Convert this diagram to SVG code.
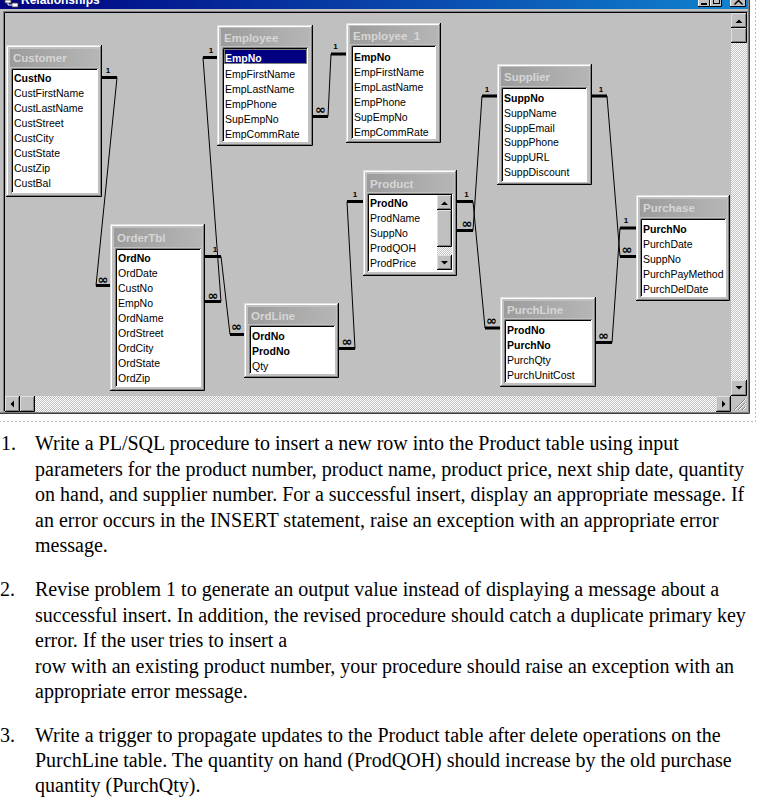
<svg xmlns="http://www.w3.org/2000/svg" width="769" height="801" viewBox="0 0 769 801">
<defs>
<linearGradient id="tb" x1="0" y1="0" x2="1" y2="0"><stop offset="0" stop-color="#000080"/><stop offset="1" stop-color="#1084d0"/></linearGradient>
<linearGradient id="tg" x1="0" y1="0" x2="1" y2="0"><stop offset="0" stop-color="#9c9c9c"/><stop offset="1" stop-color="#b6b6b6"/></linearGradient>
<pattern id="chk" width="2" height="2" patternUnits="userSpaceOnUse"><rect width="2" height="2" fill="#c0c0c0"/><rect width="1" height="1" fill="#fff"/><rect x="1" y="1" width="1" height="1" fill="#fff"/></pattern>
</defs>
<style>
.fr{fill:#c0c0c0}
.hl{stroke:#dfdfdf;fill:none}
.sh{stroke:#000;fill:none}
.hl2{stroke:#fff;fill:none}
.sh2{stroke:#808080;fill:none}
.ti{fill:url(#tg)}
.ls{fill:#fff}
.ls1{stroke:#808080;fill:none}
.ls2{stroke:#000;fill:none}
.tt{font-family:"Liberation Sans",Arial,sans-serif;font-size:11.5px;font-weight:bold;fill:#d6d6d6}
.f{font-family:"Liberation Sans",Arial,sans-serif;font-size:10.5px;fill:#000}
.b{font-weight:bold}
.one{font-family:"Liberation Sans",Arial,sans-serif;font-size:8px;font-weight:bold;fill:#000;text-anchor:middle}
.inf{font-family:"DejaVu Sans",sans-serif;font-size:13px;font-weight:bold;fill:#000;text-anchor:middle}
.thk{stroke:#000;stroke-width:3;fill:none}
.thn{stroke:#000;stroke-width:1;fill:none}
.q{font-family:"Liberation Serif","Times New Roman",serif;font-size:20px;fill:#000}
.tri{fill:#000}
</style>

<g id="window">
<rect x="0" y="0" width="750" height="414" fill="#c0c0c0"/>
<rect x="0" y="0" width="749" height="9" fill="url(#tb)"/>
<rect x="5" y="0" width="6" height="3" fill="#fff" stroke="#404040" stroke-width="0.8"/>
<rect x="12" y="3" width="6" height="4" fill="#fff" stroke="#404040" stroke-width="0.8"/>
<path d="M8 3V5H12" stroke="#fff" fill="none"/>
<text x="21" y="4" font-family="'Liberation Sans',Arial,sans-serif" font-size="12" font-weight="bold" fill="#fff">Relationships</text>
<rect x="698" y="-5" width="12" height="12" class="fr"/><path d="M698 6.5H709.5V-5" class="sh"/><path d="M698.5 6V-5" class="hl2"/>
<rect x="701" y="3" width="6" height="2" fill="#000"/>
<rect x="710" y="-5" width="12" height="12" class="fr"/><path d="M710 6.5H721.5V-5" class="sh"/><path d="M710.5 6V-5" class="hl2"/>
<rect x="713.5" y="-4.5" width="6" height="8" fill="none" stroke="#000"/>
<rect x="730" y="-5" width="16" height="12" class="fr"/><path d="M730 6.5H745.5V-5" class="sh"/><path d="M730.5 6V-5" class="hl2"/>
<path d="M734.5 -3.5L742.5 4.5M742.5 -3.5L734.5 4.5" stroke="#000" stroke-width="1.5"/>
<path d="M749.5 0V413.5H0" stroke="#404040" fill="none"/>
<path d="M748.5 0V412.5H0" stroke="#808080" fill="none"/>
<path d="M3.5 412V11.5H748" stroke="#808080" fill="none"/>
<path d="M4.5 411V12.5H747" stroke="#000" fill="none"/>
<rect x="731" y="43" width="16" height="337" fill="url(#chk)"/>
<rect x="731" y="13" width="16" height="15" class="fr"/><path class="hl" d="M731.5 27V13.5H746"/><path class="sh" d="M731 27.5H746.5V13"/><path class="sh2" d="M732 26.5H745.5V14"/>
<path class="tri" d="M735.5 23L739 19.5L742.5 23Z"/>
<rect x="731" y="28" width="16" height="15" class="fr"/><path class="hl" d="M731.5 42V28.5H746"/><path class="sh" d="M731 42.5H746.5V28"/><path class="sh2" d="M732 41.5H745.5V29"/>
<rect x="731" y="380" width="16" height="16" class="fr"/><path class="hl" d="M731.5 395V380.5H746"/><path class="sh" d="M731 395.5H746.5V380"/><path class="sh2" d="M732 394.5H745.5V381"/>
<path class="tri" d="M735.5 386H742.5L739 389.5Z"/>
<rect x="35" y="396" width="681" height="16" fill="url(#chk)"/>
<rect x="5" y="396" width="15" height="16" class="fr"/><path class="hl" d="M5.5 411V396.5H19"/><path class="sh" d="M5 411.5H19.5V396"/><path class="sh2" d="M6 410.5H18.5V397"/>
<path class="tri" d="M14 400.5V407.5L10.5 404Z"/>
<rect x="20" y="396" width="15" height="16" class="fr"/><path class="hl" d="M20.5 411V396.5H34"/><path class="sh" d="M20 411.5H34.5V396"/><path class="sh2" d="M21 410.5H33.5V397"/>
<rect x="716" y="396" width="15" height="16" class="fr"/><path class="hl" d="M716.5 411V396.5H730"/><path class="sh" d="M716 411.5H730.5V396"/><path class="sh2" d="M717 410.5H729.5V397"/>
<path class="tri" d="M722 400.5V407.5L725.5 404Z"/>
<rect x="731" y="396" width="16" height="16" class="fr"/>
<path d="M745 399L734 410M745 403L738 410M745 407L742 410" stroke="#808080" fill="none"/>
<path d="M746 399L735 410M746 403L739 410M746 407L743 410" stroke="#fff" fill="none"/>
</g>
<path d="M755.5 0V421.5H0" stroke="#bdbdbd" stroke-dasharray="2 2" fill="none"/>

<g id="connectors">
<path class="thk" d="M102 77.5H117M96 285.5H110"/>
<path class="thn" d="M117 77.5L96 285.5"/>
<path class="thk" d="M203 57.5H217M205 301.5H221"/>
<path class="thn" d="M203 57.5L221 301.5"/>
<path class="thk" d="M205 256.5H221M230 334.5H244"/>
<path class="thn" d="M221 256.5L230 334.5"/>
<path class="thk" d="M313 116.5H328M331 54H346"/>
<path class="thn" d="M328 116.5L331 54"/>
<path class="thk" d="M347 201.5H363M339 348.5H355"/>
<path class="thn" d="M347 201.5L355 348.5"/>
<path class="thk" d="M457 201.5H473M485 328H500"/>
<path class="thn" d="M473 201.5L485 328"/>
<path class="thk" d="M482 96H497M457 230.5H473"/>
<path class="thn" d="M482 96L473 230.5"/>
<path class="thk" d="M592 96H607M620 256.5H636"/>
<path class="thn" d="M607 96L620 256.5"/>
<path class="thk" d="M620 228H636M596 342.5H612"/>
<path class="thn" d="M620 228L612 342.5"/>
<text class="one" x="108" y="72.5">1</text>
<text class="one" x="211" y="53">1</text>
<text class="one" x="215" y="252">1</text>
<text class="one" x="335.5" y="49">1</text>
<text class="one" x="355" y="197">1</text>
<text class="one" x="466.5" y="197">1</text>
<text class="one" x="487" y="92">1</text>
<text class="one" x="601" y="92">1</text>
<text class="one" x="626" y="223">1</text>
<text class="inf" x="103" y="284">∞</text>
<text class="inf" x="213" y="299.5">∞</text>
<text class="inf" x="236.5" y="330.5">∞</text>
<text class="inf" x="320.5" y="113.5">∞</text>
<text class="inf" x="347" y="346">∞</text>
<text class="inf" x="491.5" y="324.5">∞</text>
<text class="inf" x="467" y="228">∞</text>
<text class="inf" x="627" y="254">∞</text>
<text class="inf" x="603.5" y="339.5">∞</text>
</g>

<g id="customer">
<rect x="6" y="45" width="96" height="152" class="fr"/>
<path class="hl" d="M6.5 196V45.5H101"/><path class="sh" d="M6 196.5H101.5V45"/><path class="hl2" d="M7.5 195V46.5H100"/><path class="sh2" d="M7 195.5H100.5V46"/>
<rect x="10" y="49" width="89" height="18" class="ti"/>
<text x="13" y="62" class="tt">Customer</text>
<rect x="11" y="68" width="87" height="125" class="ls"/>
<path class="ls1" d="M11.5 193V68.5H98"/><path class="ls2" d="M12.5 192V69.5H97"/>
<text x="14" y="82" class="f b">CustNo</text>
<text x="14" y="97" class="f">CustFirstName</text>
<text x="14" y="112" class="f">CustLastName</text>
<text x="14" y="127" class="f">CustStreet</text>
<text x="14" y="142" class="f">CustCity</text>
<text x="14" y="157" class="f">CustState</text>
<text x="14" y="172" class="f">CustZip</text>
<text x="14" y="187" class="f">CustBal</text>
</g>

<g id="employee">
<rect x="217" y="25" width="96" height="121" class="fr"/>
<path class="hl" d="M217.5 145V25.5H312"/><path class="sh" d="M217 145.5H312.5V25"/><path class="hl2" d="M218.5 144V26.5H311"/><path class="sh2" d="M218 144.5H311.5V26"/>
<rect x="221" y="28" width="89" height="18" class="ti"/>
<text x="224" y="42" class="tt">Employee</text>
<rect x="222" y="47" width="86" height="95" class="ls"/>
<path class="ls1" d="M222.5 142V47.5H308"/><path class="ls2" d="M223.5 141V48.5H307"/>
<rect x="224" y="49" width="83" height="15" fill="#000080"/>
<rect x="224.5" y="49.5" width="82" height="14" fill="none" stroke="#ffff80" stroke-dasharray="1 1"/>
<text x="225" y="62" class="f b" style="fill:#fff">EmpNo</text>
<text x="225" y="78" class="f">EmpFirstName</text>
<text x="225" y="93" class="f">EmpLastName</text>
<text x="225" y="108" class="f">EmpPhone</text>
<text x="225" y="123" class="f">SupEmpNo</text>
<text x="225" y="138" class="f">EmpCommRate</text>
</g>

<g id="employee_1">
<rect x="346" y="23" width="95" height="120" class="fr"/>
<path class="hl" d="M346.5 142V23.5H440"/><path class="sh" d="M346 142.5H440.5V23"/><path class="hl2" d="M347.5 141V24.5H439"/><path class="sh2" d="M347 141.5H439.5V24"/>
<rect x="350" y="26" width="88" height="18" class="ti"/>
<text x="353" y="39.5" class="tt">Employee_1</text>
<rect x="351" y="45" width="85" height="94" class="ls"/>
<path class="ls1" d="M351.5 139V45.5H436"/><path class="ls2" d="M352.5 138V46.5H435"/>
<text x="354" y="61" class="f b">EmpNo</text>
<text x="354" y="76" class="f">EmpFirstName</text>
<text x="354" y="91" class="f">EmpLastName</text>
<text x="354" y="106" class="f">EmpPhone</text>
<text x="354" y="121" class="f">SupEmpNo</text>
<text x="354" y="136" class="f">EmpCommRate</text>
</g>

<g id="supplier">
<rect x="497" y="64" width="95" height="121" class="fr"/>
<path class="hl" d="M497.5 184V64.5H591"/><path class="sh" d="M497 184.5H591.5V64"/><path class="hl2" d="M498.5 183V65.5H590"/><path class="sh2" d="M498 183.5H590.5V65"/>
<rect x="501" y="67" width="88" height="19" class="ti"/>
<text x="504" y="81" class="tt">Supplier</text>
<rect x="501" y="87" width="86" height="95" class="ls"/>
<path class="ls1" d="M501.5 182V87.5H587"/><path class="ls2" d="M502.5 181V88.5H586"/>
<text x="504" y="102" class="f b">SuppNo</text>
<text x="504" y="117" class="f">SuppName</text>
<text x="504" y="132" class="f">SuppEmail</text>
<text x="504" y="146" class="f">SuppPhone</text>
<text x="504" y="161" class="f">SuppURL</text>
<text x="504" y="176" class="f">SuppDiscount</text>
</g>

<g id="product">
<rect x="363" y="170" width="94" height="106" class="fr"/>
<path class="hl" d="M363.5 275V170.5H456"/><path class="sh" d="M363 275.5H456.5V170"/><path class="hl2" d="M364.5 274V171.5H455"/><path class="sh2" d="M364 274.5H455.5V171"/>
<rect x="367" y="174" width="87" height="18" class="ti"/>
<text x="370" y="188" class="tt">Product</text>
<rect x="367" y="193" width="86" height="79" class="ls"/>
<path class="ls1" d="M367.5 272V193.5H453"/><path class="ls2" d="M368.5 271V194.5H452"/>
<text x="370" y="207" class="f b">ProdNo</text>
<text x="370" y="222" class="f">ProdName</text>
<text x="370" y="237" class="f">SuppNo</text>
<text x="370" y="252" class="f">ProdQOH</text>
<text x="370" y="267" class="f">ProdPrice</text>
<rect x="437" y="247" width="15" height="8" fill="url(#chk)"/>
<rect x="437" y="195" width="15" height="15" class="fr"/><path class="hl" d="M437.5 209V195.5H451"/><path class="sh" d="M437 209.5H451.5V195"/><path class="sh2" d="M438 208.5H450.5V196"/>
<path class="tri" d="M441 205L444.5 201.5L448 205Z"/>
<rect x="437" y="210" width="15" height="37" class="fr"/><path class="hl" d="M437.5 246V210.5H451"/><path class="sh" d="M437 246.5H451.5V210"/><path class="sh2" d="M438 245.5H450.5V211"/>
<rect x="437" y="255" width="15" height="15" class="fr"/><path class="hl" d="M437.5 269V255.5H451"/><path class="sh" d="M437 269.5H451.5V255"/><path class="sh2" d="M438 268.5H450.5V256"/>
<path class="tri" d="M441 261H448L444.5 264.5Z"/>
</g>

<g id="ordertbl">
<rect x="110" y="224" width="95" height="167" class="fr"/>
<path class="hl" d="M110.5 390V224.5H204"/><path class="sh" d="M110 390.5H204.5V224"/><path class="hl2" d="M111.5 389V225.5H203"/><path class="sh2" d="M111 389.5H203.5V225"/>
<rect x="114" y="228" width="88" height="19" class="ti"/>
<text x="117" y="242" class="tt">OrderTbl</text>
<rect x="115" y="248" width="86" height="139" class="ls"/>
<path class="ls1" d="M115.5 387V248.5H201"/><path class="ls2" d="M116.5 386V249.5H200"/>
<text x="118" y="262" class="f b">OrdNo</text>
<text x="118" y="277" class="f">OrdDate</text>
<text x="118" y="292" class="f">CustNo</text>
<text x="118" y="307" class="f">EmpNo</text>
<text x="118" y="322" class="f">OrdName</text>
<text x="118" y="337" class="f">OrdStreet</text>
<text x="118" y="352" class="f">OrdCity</text>
<text x="118" y="367" class="f">OrdState</text>
<text x="118" y="382" class="f">OrdZip</text>
</g>

<g id="ordline">
<rect x="244" y="303" width="95" height="75" class="fr"/>
<path class="hl" d="M244.5 377V303.5H338"/><path class="sh" d="M244 377.5H338.5V303"/><path class="hl2" d="M245.5 376V304.5H337"/><path class="sh2" d="M245 376.5H337.5V304"/>
<rect x="248" y="307" width="88" height="17" class="ti"/>
<text x="251" y="320" class="tt">OrdLine</text>
<rect x="249" y="325" width="86" height="49" class="ls"/>
<path class="ls1" d="M249.5 374V325.5H335"/><path class="ls2" d="M250.5 373V326.5H334"/>
<text x="252" y="340" class="f b">OrdNo</text>
<text x="252" y="355" class="f b">ProdNo</text>
<text x="252" y="370" class="f">Qty</text>
</g>

<g id="purchase">
<rect x="636" y="195" width="94" height="106" class="fr"/>
<path class="hl" d="M636.5 300V195.5H729"/><path class="sh" d="M636 300.5H729.5V195"/><path class="hl2" d="M637.5 299V196.5H728"/><path class="sh2" d="M637 299.5H728.5V196"/>
<rect x="640" y="199" width="87" height="18" class="ti"/>
<text x="643" y="212" class="tt">Purchase</text>
<rect x="640" y="218" width="86" height="79" class="ls"/>
<path class="ls1" d="M640.5 297V218.5H726"/><path class="ls2" d="M641.5 296V219.5H725"/>
<text x="643" y="233" class="f b">PurchNo</text>
<text x="643" y="248" class="f">PurchDate</text>
<text x="643" y="263" class="f">SuppNo</text>
<text x="643" y="278" class="f">PurchPayMethod</text>
<text x="643" y="293" class="f">PurchDelDate</text>
</g>

<g id="purchline">
<rect x="500" y="297" width="96" height="90" class="fr"/>
<path class="hl" d="M500.5 386V297.5H595"/><path class="sh" d="M500 386.5H595.5V297"/><path class="hl2" d="M501.5 385V298.5H594"/><path class="sh2" d="M501 385.5H594.5V298"/>
<rect x="504" y="301" width="89" height="17" class="ti"/>
<text x="507" y="314" class="tt">PurchLine</text>
<rect x="504" y="319" width="88" height="64" class="ls"/>
<path class="ls1" d="M504.5 383V319.5H592"/><path class="ls2" d="M505.5 382V320.5H591"/>
<text x="507" y="334" class="f b">ProdNo</text>
<text x="507" y="349" class="f b">PurchNo</text>
<text x="507" y="364" class="f">PurchQty</text>
<text x="507" y="379" class="f">PurchUnitCost</text>
</g>

<g id="questions">
<text class="q" x="1" y="450">1.</text>
<text class="q" x="35" y="450">Write a PL/SQL procedure to insert a new row into the Product table using input</text>
<text class="q" x="35" y="476">parameters for the product number, product name, product price, next ship date, quantity</text>
<text class="q" x="35" y="501">on hand, and supplier number. For a successful insert, display an appropriate message. If</text>
<text class="q" x="35" y="527">an error occurs in the INSERT statement, raise an exception with an appropriate error</text>
<text class="q" x="35" y="552">message.</text>
<text class="q" x="0" y="596">2.</text>
<text class="q" x="35" y="596">Revise problem 1 to generate an output value instead of displaying a message about a</text>
<text class="q" x="35" y="622">successful insert. In addition, the revised procedure should catch a duplicate primary key</text>
<text class="q" x="35" y="647">error. If the user tries to insert a</text>
<text class="q" x="35" y="673">row with an existing product number, your procedure should raise an exception with an</text>
<text class="q" x="35" y="698">appropriate error message.</text>
<text class="q" x="0" y="742">3.</text>
<text class="q" x="35" y="742">Write a trigger to propagate updates to the Product table after delete operations on the</text>
<text class="q" x="35" y="767">PurchLine table. The quantity on hand (ProdQOH) should increase by the old purchase</text>
<text class="q" x="35" y="792">quantity (PurchQty).</text>
</g>
</svg>
